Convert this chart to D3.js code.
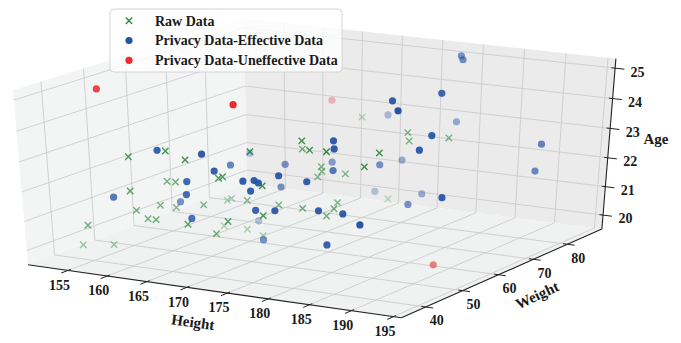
<!DOCTYPE html><html><head><meta charset="utf-8">
<script src="https://d3js.org/d3.v7.min.js"></script>
<style>body{margin:0;background:#fff} svg{display:block} text{font-family:'Liberation Serif','Times New Roman',serif;font-weight:bold;fill:#1a1a1a}</style>
</head><body><svg id="chart" width="681" height="343"></svg><script>
// ---- data (Height cm, Weight kg, Age years) ----
const rawHeight=[165.8,179.4,180.0,183.5,187.0,186.4,175.9,184.6,180.7,172.9,179.5,173.3,173.6,173.5,172.3,176.8,179.1,178.8,176.2,171.5,178.8,165.8,162.8,174.6,159.6,169.7,168.3,159.5,159.2,164.5,178.4,175.5,172.0,171.7,169.6,167.3,163.1,162.3,162.1,160.5,163.4,162.6,169.7,161.1,162.8,162.8,157.3,150.9,153.8];
const rawWeight=[88.9,71.4,70.5,73.5,46.9,44.4,62.4,38.7,42.8,57.5,43.4,61.6,61.1,60.2,82.2,58.4,52.5,51.2,50.5,54.2,35.1,61.8,63.8,35.0,64.2,41.9,52.7,66.5,66.0,49.3,35.8,38.9,39.2,38.8,35.1,35.0,45.3,44.8,47.2,46.4,39.6,39.2,35.0,39.4,34.9,34.9,34.8,45.2,47.3];
const rawAge=[22.49,23.19,22.97,23.05,23.91,23.56,22.11,24.25,23.98,23.07,24.21,22.30,22.17,22.03,20.14,21.36,21.53,21.34,21.54,21.30,22.17,19.64,19.65,21.83,19.64,20.88,21.42,20.49,20.44,21.30,23.09,23.94,23.00,22.96,23.66,23.87,22.22,22.24,21.23,21.29,21.25,21.27,21.56,21.49,22.42,23.54,21.08,19.63,19.63];
const effHeight=[180.0,181.2,185.1,187.7,188.0,169.1,178.9,190.7,190.4,175.9,178.6,182.3,182.8,171.7,179.2,194.9,194.9,194.8,179.7,183.4,170.6,190.2,187.0,186.4,184.7,182.1,169.8,179.3,170.7,180.2,177.9,161.7,172.0,177.3,177.4,177.9,176.4,156.2,167.2,173.0,171.6,169.7,169.6,162.2,170.2,166.3,160.7];
const effWeight=[84.3,82.0,54.3,61.4,49.3,88.9,86.2,52.2,49.7,77.9,65.7,45.4,44.5,67.9,52.0,72.8,71.4,46.0,75.1,62.9,82.2,35.1,37.7,35.0,36.5,39.1,59.5,38.0,56.5,35.1,35.1,69.1,49.1,35.2,35.9,35.9,35.2,78.3,50.9,35.2,35.1,35.1,35.1,48.1,35.0,35.0,34.9];
const effAge=[25.19,25.19,25.17,25.18,25.17,22.67,22.87,24.34,23.98,21.84,22.35,24.21,24.01,22.10,22.83,23.25,22.42,22.78,20.94,21.31,20.35,22.28,22.39,21.49,22.47,23.19,22.36,23.34,21.77,22.38,22.31,19.64,20.38,22.91,23.22,23.16,23.20,21.40,22.66,23.41,23.91,22.96,22.53,21.38,21.77,23.86,22.14];
const unHeight=[155.8,172.0,161.9,188.5];
const unWeight=[41.6,42.2,88.9,58.8];
const unAge=[25.19,25.17,22.95,19.63];
const heightTicks=[155,160,165,170,175,180,185,190,195];
const weightTicks=[40,50,60,70,80];
const ageTicks=[20,21,22,23,24,25];
const seriesNames=["Raw Data","Privacy Data-Effective Data","Privacy Data-Uneffective Data"];

// ---- 3D view (matplotlib-style perspective camera, unit cube) ----
const view={elev:28.2426,azim:-59.9809,kx:4131.052,ky:1877.4016,cx:319.6285,cy:162.4982,dist:10};
const xS=d3.scaleLinear().domain([150.77,195.01]).range([0,1]);
const yS=d3.scaleLinear().domain([34.71,89.33]).range([0,1]);
const zS=d3.scaleLinear().domain([19.621,25.195]).range([0,1]);
const lo=-1/48, hi=1+1/48;
const cross=(a,b)=>[a[1]*b[2]-a[2]*b[1],a[2]*b[0]-a[0]*b[2],a[0]*b[1]-a[1]*b[0]];
const dot=(a,b)=>a[0]*b[0]+a[1]*b[1]+a[2]*b[2];
const camera=(()=>{
  const R=[0.5,0.5,0.5],e=view.elev*Math.PI/180,az=view.azim*Math.PI/180;
  const ps=[Math.cos(e)*Math.cos(az),Math.cos(e)*Math.sin(az),Math.sin(e)];
  const E=R.map((r,i)=>r+view.dist*ps[i]);
  let w=E.map((x,i)=>x-R[i]);const wn=Math.hypot(...w);w=w.map(x=>x/wn);
  let u=cross([0,0,1],w);const un=Math.hypot(...u);u=u.map(x=>x/un);
  const v=cross(w,u);
  return q=>{const P=[q[0]-E[0],q[1]-E[1],q[2]-E[2]];
    const px=dot(u,P),py=dot(v,P),d=-dot(w,P);
    return [view.cx+view.kx*px/d,view.cy-view.ky*py/d,d];};
})();
const P=(u,v,w)=>camera([u,v,w]);
const svg=d3.select('#chart');
const line=d3.line();
const seg=d=>line(d.map(q=>P(...q).slice(0,2)));
// panes
const panes=[
  {c:'#f3f4f4',q:[[lo,lo,lo],[lo,hi,lo],[lo,hi,hi],[lo,lo,hi]]},
  {c:'#ebebeb',q:[[lo,hi,lo],[hi,hi,lo],[hi,hi,hi],[lo,hi,hi]]},
  {c:'#f0f1f1',q:[[lo,lo,lo],[hi,lo,lo],[hi,hi,lo],[lo,hi,lo]]}];
svg.append('g').selectAll('path').data(panes).join('path').attr('d',d=>seg(d.q)+'Z').attr('fill',d=>d.c);
// gridlines
const grid=[];
heightTicks.forEach(t=>{const u=xS(t);grid.push([[u,hi,lo],[u,hi,hi]],[[u,lo,lo],[u,hi,lo]]);});
weightTicks.forEach(t=>{const v=yS(t);grid.push([[lo,v,lo],[lo,v,hi]],[[lo,v,lo],[hi,v,lo]]);});
ageTicks.forEach(t=>{const w=zS(t);grid.push([[lo,lo,w],[lo,hi,w]],[[lo,hi,w],[hi,hi,w]]);});
svg.append('g').selectAll('path').data(grid).join('path').attr('d',seg)
  .attr('stroke','#c8c8c8').attr('stroke-width',0.8).attr('fill','none');
// axis lines
const axes=[[[lo,lo,lo],[hi,lo,lo]],[[hi,lo,lo],[hi,hi,lo]],[[hi,hi,lo],[hi,hi,hi]]];
svg.append('g').selectAll('path').data(axes).join('path').attr('d',seg)
  .attr('stroke','#222').attr('stroke-width',1.1).attr('fill','none');
// ticks
const tk=[];
heightTicks.forEach(t=>{const u=xS(t);tk.push([[u,lo+0.012,lo],[u,lo-0.03,lo]]);});
weightTicks.forEach(t=>{const v=yS(t);tk.push([[hi-0.012,v,lo],[hi+0.02,v,lo]]);});
ageTicks.forEach(t=>{const w=zS(t);tk.push([[hi-0.01,hi,w],[hi+0.025,hi,w]]);});
svg.append('g').selectAll('path').data(tk).join('path').attr('d',seg)
  .attr('stroke','#222').attr('stroke-width',1).attr('fill','none');
// tick labels
const tl=svg.append('g').attr('font-size',14).attr('text-anchor','middle');
heightTicks.forEach(t=>{const p=P(xS(t),lo,lo);tl.append('text').attr('x',p[0]-8.5).attr('y',p[1]+14.5).attr('dy','0.35em').text(t);});
weightTicks.forEach(t=>{const p=P(hi,yS(t),lo);tl.append('text').attr('x',p[0]+11).attr('y',p[1]+13.5).attr('dy','0.35em').text(t);});
ageTicks.forEach(t=>{const p=P(hi,hi,zS(t));tl.append('text').attr('x',p[0]+22.5).attr('y',p[1]+3.5).attr('dy','0.35em').text(t);});
// axis labels
const al=svg.append('g').attr('font-size',15).attr('text-anchor','middle');
al.append('text').attr('transform','translate(193,322) rotate(8)').attr('dy','0.35em').text('Height');
al.append('text').attr('transform','translate(537,295) rotate(-25)').attr('dy','0.35em').text('Weight');
al.append('text').attr('transform','translate(656,139)').attr('dy','0.35em').text('Age');
// scatter with depth shading
const colors=['#2a8a3a','#2553a6','#ee2a2f'];
function pts(H,W,A){const a=H.map((h,i)=>P(xS(h),yS(W[i]),zS(A[i])));
  const z=a.map(d=>-10/d[2]);const zn=d3.min(z),zf=d3.max(z);
  return a.map((d,i)=>({x:d[0],y:d[1],d:d[2],op:1-0.7*(z[i]-zn)/(zf-zn)})).sort((p,q)=>q.d-p.d);}
const xMark=s=>`M${-s},${-s}L${s},${s}M${-s},${s}L${s},${-s}`;
const g=svg.append('g');
g.selectAll('.raw').data(pts(rawHeight,rawWeight,rawAge)).join('path').attr('class','raw')
  .attr('transform',d=>`translate(${d.x},${d.y})`).attr('d',xMark(3.2)).attr('stroke',colors[0]).attr('stroke-width',1.4).attr('fill','none').attr('stroke-opacity',d=>d.op);
g.selectAll('.eff').data(pts(effHeight,effWeight,effAge)).join('circle').attr('class','eff')
  .attr('cx',d=>d.x).attr('cy',d=>d.y).attr('r',3.6).attr('fill',colors[1]).attr('fill-opacity',d=>d.op);
g.selectAll('.un').data(pts(unHeight,unWeight,unAge)).join('circle').attr('class','un')
  .attr('cx',d=>d.x).attr('cy',d=>d.y).attr('r',3.6).attr('fill',colors[2]).attr('fill-opacity',d=>d.op);
// legend
const lg=svg.append('g');
lg.append('rect').attr('x',110).attr('y',9).attr('width',232).attr('height',63).attr('rx',4)
  .attr('fill','#fff').attr('fill-opacity',0.8).attr('stroke','#d4d4d4').attr('stroke-width',1);
seriesNames.forEach((s,i)=>{const y=20.7+i*19.8;
  if(i===0) lg.append('path').attr('transform',`translate(129,${y})`).attr('d',xMark(3.2)).attr('stroke',colors[0]).attr('stroke-width',1.4);
  else lg.append('circle').attr('cx',129).attr('cy',y).attr('r',3.6).attr('fill',colors[i]);
  lg.append('text').attr('x',155).attr('y',y).attr('dy','0.35em').attr('font-size',14).text(s);});
</script></body></html>
